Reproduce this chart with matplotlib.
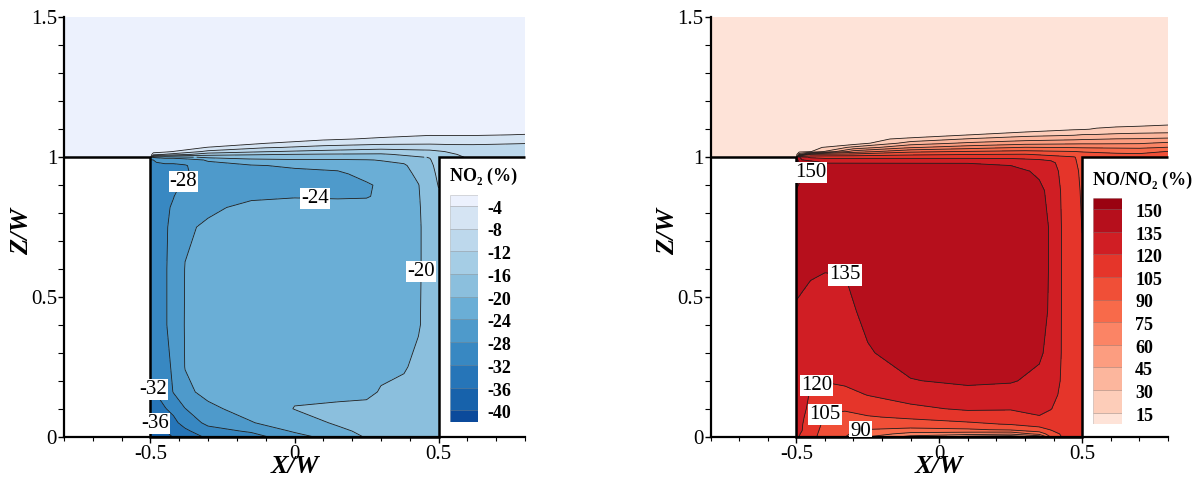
import numpy as np
import matplotlib
matplotlib.use("Agg")
import matplotlib.pyplot as plt
from matplotlib.patches import Rectangle
from matplotlib.ticker import MultipleLocator

plt.rcParams["font.family"] = ["Liberation Serif", "DejaVu Serif"]
plt.rcParams["axes.unicode_minus"] = False
plt.rcParams["contour.negative_linestyle"] = "solid"

# ------------------------------------------------------------------ geometry
wall_x = [-0.8, -0.5, -0.5, 0.5, 0.5, 0.8]      # building outline (X/W)
wall_z = [1.0, 1.0, 0.0, 0.0, 1.0, 1.0]         # building outline (Z/W)

# ------------------------------------------------------------------ NO2 panel
no2_levels = [-40, -36, -32, -28, -24, -20, -16, -12, -8, -4]
no2_colors = ["#0b4a9b", "#1762ab", "#2675b8", "#3888c2", "#4e9acb", "#6aaed6",
              "#8bbfdd", "#a5cde5", "#bdd8ec", "#d5e4f3", "#ecf1fd"]

no2_canyon_x = [-0.5, -0.48, -0.45, -0.42, -0.38, -0.3, -0.15, 0.0, 0.15, 0.25, 0.3, 0.38, 0.43, 0.47, 0.5]
no2_canyon_z = [0.0, 0.02, 0.05, 0.1, 0.16, 0.25, 0.4, 0.6, 0.75, 0.82, 0.86, 0.9, 0.94, 0.97, 0.99, 1.0]
# one list per x position, values going up in z
no2_canyon_cols = [
    [-39, -38, -36.8, -34.5, -32.5, -31, -30, -29.5, -29.5, -29.5, -29.5, -29.5, -29.5, -29, -28.5, -24],
    [-38, -37, -35.8, -33.5, -31.8, -30.5, -29.5, -29, -29, -29, -29, -29, -29, -28.7, -27.5, -23],
    [-37, -36.2, -34.5, -32.2, -30.5, -29, -28.3, -28.3, -28.4, -28.6, -28.8, -29, -28.9, -28.5, -27, -22],
    [-35.8, -34.8, -33, -31, -27.8, -27.5, -27, -27, -27.2, -27.6, -28.1, -28.6, -28.8, -28.5, -27, -22],
    [-33.5, -32.8, -30.5, -28.1, -24.8, -23.9, -23.8, -23.9, -24.5, -25.5, -26.5, -27.5, -28.5, -28.3, -26, -21],
    [-31.5, -29.5, -27, -24.8, -23, -22.5, -22.3, -22.5, -23.5, -24.6, -25.5, -26, -26, -25.5, -23.5, -19],
    [-29.5, -27.5, -24.2, -22.5, -21.5, -21.2, -21, -21.2, -22.2, -23.2, -24.5, -25.5, -25.5, -24.3, -21, -18],
    [-25.5, -23.5, -21.8, -19.9, -20.5, -20.8, -21, -21.2, -22, -22.8, -24.2, -25.2, -25, -23.5, -20.5, -17.5],
    [-22, -20.8, -19.5, -19.3, -21, -21, -21.2, -21.3, -22, -23, -24.3, -25, -24.6, -23, -20.5, -17.5],
    [-19.7, -19.2, -18.8, -19.3, -20.6, -21, -21.2, -21.3, -22, -23, -24.2, -24.4, -23, -21.8, -20.2, -17.5],
    [-19.3, -18.8, -18.5, -18.8, -19.8, -20.6, -21, -21.1, -21.7, -22.6, -23.5, -23.5, -22.5, -21.3, -19.8, -17.5],
    [-18.5, -18.2, -18, -18.2, -19.2, -20.3, -20.8, -21, -21, -21, -21, -21, -21, -20.5, -19, -17],
    [-18, -17.8, -17.8, -18, -18.5, -19.2, -20.3, -20.4, -20.4, -20.3, -20.2, -20.1, -19.3, -18.2, -17.5, -16.5],
    [-17.8, -17.7, -17.6, -17.7, -18, -18.3, -18.6, -18.7, -18.7, -18.6, -18.5, -18.2, -17.8, -17, -16.3, -15.8],
    [-17.5, -17.4, -17.3, -17.3, -17.4, -17.5, -17.6, -17.6, -17.5, -17.2, -16.6, -15.8, -15, -14.5, -14, -13.8],
]
no2_roof_x = [-0.8, -0.5, -0.49, -0.45, -0.3, -0.1, 0.1, 0.3, 0.47, 0.5, 0.55, 0.62, 0.7, 0.8]
no2_roof_z = [1.0, 1.01, 1.02, 1.035, 1.05, 1.065, 1.08, 1.1, 1.13, 1.5]
no2_roof_cols = [
    [-2, -2, -2, -2, -2, -2, -2, -2, -2, -2],
    [-2, -2, -2, -2, -2, -2, -2, -2, -2, -2],
    [-20, -6, -2.5, -2, -2, -2, -2, -2, -2, -2],
    [-22, -8.2, -3, -2, -2, -2, -2, -2, -2, -2],
    [-19, -14.5, -9, -4.1, -2, -2, -2, -2, -2, -2],
    [-17.7, -15.8, -11.8, -7.6, -3.9, -2.3, -2, -2, -2, -2],
    [-17.5, -16.3, -13.2, -9, -6.5, -3.2, -2.2, -2, -2, -2],
    [-17.5, -16.5, -14, -10.5, -7, -4.7, -2.7, -2.1, -2, -2],
    [-15.8, -14.3, -12.8, -10.5, -7.3, -5.2, -3.8, -2.5, -2, -2],
    [-13.8, -13.2, -12.3, -10.3, -7.2, -5.1, -3.8, -2.5, -2, -2],
    [-12.6, -12.2, -11.6, -10, -7, -5, -3.8, -2.6, -2, -2],
    [-11.5, -11.2, -10.8, -9.5, -7.2, -5, -3.8, -2.8, -2, -2],
    [-11, -10.8, -10.3, -9.2, -7.6, -5.3, -3.9, -2.9, -2, -2],
    [-10.5, -10.3, -10, -9, -7.9, -5.6, -4.1, -2.9, -2, -2],
]
no2_label_levels = [-28, -24, -20, -32, -36]
no2_label_pos = [(-0.36, 0.889), (0.071, 0.841), (0.444, 0.59), (-0.466, 0.179), (-0.475, 0.054)]

# ------------------------------------------------------------------ NO/NO2 panel
rat_levels = [15, 30, 45, 60, 75, 90, 105, 120, 135, 150]
rat_colors = ["#fee3d8", "#fdcdb9", "#fcb69d", "#fc9d80", "#fb8465", "#f86a4a",
              "#f04f37", "#e5352a", "#d01e24", "#b60f1c", "#9a0211"]

rat_canyon_x = [-0.5, -0.48, -0.45, -0.4, -0.33, -0.25, -0.1, 0.1, 0.25, 0.35, 0.39, 0.43, 0.47, 0.5]
rat_canyon_z = [0.0, 0.01, 0.025, 0.045, 0.07, 0.1, 0.15, 0.2, 0.3, 0.45, 0.6, 0.75, 0.88, 0.95, 0.98, 1.0]
rat_canyon_cols = [
    [121, 121, 121.5, 122, 122.5, 123, 124, 125, 127, 134, 138, 143, 149.8, 153, 155, 150],
    [119, 119.5, 120.2, 120.5, 121, 121.5, 122, 122.5, 125, 133, 137.5, 142, 148, 151, 146, 125],
    [112, 113, 114, 115, 117, 118.5, 119.5, 120.5, 124, 131, 136.5, 141, 147, 150.3, 144, 117],
    [96, 97, 99, 101.5, 104, 107, 116, 120.5, 125, 130, 135.5, 140, 144, 146, 134.5, 116],
    [90.5, 92, 95, 99, 102.5, 106, 115, 123, 127, 132, 135.5, 140, 144, 145, 134.5, 116],
    [75.5, 82, 89.5, 98, 104, 110, 120.5, 126, 134, 138, 140, 142, 145, 144, 134.5, 116],
    [55, 70, 86, 99, 107, 117, 126, 134.5, 140, 143, 145, 146, 146, 143, 134.5, 116],
    [40, 66, 88, 102, 112, 122, 131, 137, 142, 145, 146, 146, 145, 142, 134.5, 116],
    [35, 62, 92, 106, 114, 121, 130, 136, 140, 143, 144, 144, 143, 139, 133, 116],
    [50, 80, 100, 110, 119, 124, 128, 132, 137, 139, 139, 139, 137.5, 133, 128, 114],
    [92, 98, 105.5, 111, 116, 120.5, 124, 127, 131, 133.5, 134, 134, 132, 128, 124, 113],
    [106, 107, 109, 111, 113, 115, 117.5, 118.5, 119, 119, 119, 119, 118, 116, 114, 110],
    [108, 109, 110, 111, 112, 113, 114, 114.5, 115, 115, 114.5, 113, 111, 109, 107, 106],
    [108, 108, 109, 110, 110.5, 111, 111.5, 112, 112, 110, 108, 104.5, 103, 102, 101.5, 101],
]
rat_roof_x = [-0.8, -0.5, -0.49, -0.45, -0.3, -0.1, 0.1, 0.3, 0.47, 0.5, 0.55, 0.62, 0.7, 0.8]
rat_roof_z = [1.0, 1.01, 1.02, 1.035, 1.05, 1.065, 1.08, 1.1, 1.13, 1.5]
rat_roof_cols = [
    [8, 8, 8, 8, 8, 8, 8, 8, 8, 8],
    [8, 8, 8, 8, 8, 8, 8, 8, 8, 8],
    [130, 40, 10, 8, 8, 8, 8, 8, 8, 8],
    [116, 90, 14, 8, 8, 8, 8, 8, 8, 8],
    [116, 94, 67, 34, 6, 8, 8, 8, 8, 8],
    [115, 102, 87, 58, 37, 19, 5, 8, 8, 8],
    [114, 104.5, 91, 68, 47.5, 31, 14.5, 7, 8, 8],
    [113, 105.7, 93.7, 75.5, 54.4, 38.7, 24.4, 5.6, 8, 8],
    [106, 98, 90.5, 74, 57, 42, 28.5, 13.5, 8, 8],
    [101, 96, 89, 73.5, 57.5, 43, 30.5, 14, 8, 8],
    [98, 94, 88, 73, 57.5, 44, 31, 16, 8, 8],
    [96, 92, 87, 72.5, 58, 45.5, 33, 18, 7, 8],
    [95, 91.5, 86, 72, 58.5, 46, 34, 20, 6, 8],
    [95, 92.5, 90.5, 75.5, 63, 48, 34.5, 22, 8, 8],
]
rat_label_levels = [150, 135, 120, 105, 90]
rat_label_pos = [(-0.442, 0.932), (-0.32, 0.586), (-0.436, 0.205), (-0.41, 0.084), (-0.28, 0.036)]

W_PX, H_PX = 1203, 478


def draw_panel(ax, cx, cz, ccols, rx, rz, rcols, levels, colors, lab_levels, lab_pos, ylab_x):
    fill_levels = [-1e4] + levels + [1e4]
    vc = np.array(ccols, dtype=float).T
    vr = np.array(rcols, dtype=float).T
    ax.contourf(rx, rz, vr, levels=fill_levels, colors=colors, zorder=1)
    ax.contour(rx, rz, vr, levels=levels, colors="#1e1e1e", linewidths=0.6,
               linestyles="solid", zorder=2)
    ax.contourf(cx, cz, vc, levels=fill_levels, colors=colors, zorder=1)
    ax.contour(cx, cz, vc, levels=levels, colors="#1e1e1e", linewidths=0.6,
               linestyles="solid", zorder=2)
    # labels: one (invisible) single-level contour set per label, labelled near the given point
    for lev, pos in zip(lab_levels, lab_pos):
        cs1 = ax.contour(cx, cz, vc, levels=[lev], colors="none", linewidths=0)
        ax.clabel(cs1, manual=[pos], inline=False, fontsize=15, fmt="%d", colors="k")
        for t in cs1.labelTexts:
            t.set_rotation(0)
            t.set_zorder(7)
            t.set_bbox(dict(boxstyle="square,pad=0.05", fc="white", ec="none"))

    ax.plot(wall_x, wall_z, color="k", lw=1.8, zorder=6, clip_on=False,
            solid_joinstyle="miter", solid_capstyle="butt")

    ax.set_xlim(-0.8, 0.8)
    ax.set_ylim(0, 1.5)
    ax.set_xticks([-0.5, 0, 0.5], labels=["-0.5", "0", "0.5"])
    ax.set_yticks([0, 0.5, 1, 1.5], labels=["0", "0.5", "1", "1.5"])
    ax.xaxis.set_minor_locator(MultipleLocator(0.1))
    ax.yaxis.set_minor_locator(MultipleLocator(0.1))
    ax.tick_params(axis="x", which="major", direction="out", length=4.5, width=1.0, pad=1.5, labelsize=15)
    ax.tick_params(axis="x", which="minor", direction="out", length=3.0, width=0.8)
    ax.tick_params(axis="y", which="major", direction="out", length=4.5, width=1.0, pad=0.5, labelsize=15)
    ax.tick_params(axis="y", which="minor", direction="out", length=4.0, width=0.8)
    for s in ("top", "right"):
        ax.spines[s].set_visible(False)
    for s in ("left", "bottom"):
        ax.spines[s].set_linewidth(1.6)
        ax.spines[s].set_zorder(6)

    ax.set_xlabel("X/W", fontsize=19, fontweight="bold", fontstyle="italic")
    ax.xaxis.set_label_coords(0.5, -0.072)
    ax.xaxis.label.set_va("center")
    ax.set_ylabel("Z/W", fontsize=19, fontweight="bold", fontstyle="italic")
    ax.yaxis.set_label_coords(ylab_x, 0.49)
    ax.yaxis.label.set_va("center")


def draw_legend(fig, box_px, levels, colors, title, title_px, label_dx):
    x0, y0, x1, y1 = box_px
    lax = fig.add_axes([x0 / W_PX, (H_PX - y1) / H_PX, (x1 - x0) / W_PX, (y1 - y0) / H_PX])
    n = len(levels)
    lax.set_xlim(0, 1)
    lax.set_ylim(0, n)
    lax.axis("off")
    edges = [0] + [i + 0.5 for i in range(n)] + [n]
    for k, c in enumerate(colors):
        lax.add_patch(Rectangle((0, edges[k]), 1, edges[k + 1] - edges[k],
                                fc=c, ec=(0.1, 0.1, 0.1, 0.18), lw=0.6))
    for i, lev in enumerate(levels):
        lax.text(label_dx, i + 0.5 - 0.15, f"{lev:g}", ha="left", va="center",
                 fontsize=13, fontweight="bold", clip_on=False)
    fig.text(title_px[0] / W_PX, 1 - title_px[1] / H_PX, title, ha="left", va="center",
             fontsize=13, fontweight="bold")


fig = plt.figure(figsize=(12.03, 4.78), dpi=100)
ax1 = fig.add_axes([64 / W_PX, 41.3 / H_PX, 461 / W_PX, 419.3 / H_PX])
ax2 = fig.add_axes([710.5 / W_PX, 41.3 / H_PX, 457.5 / W_PX, 419.3 / H_PX])

draw_panel(ax1, no2_canyon_x, no2_canyon_z, no2_canyon_cols, no2_roof_x, no2_roof_z, no2_roof_cols,
           no2_levels, no2_colors, no2_label_levels, no2_label_pos, -0.091)
draw_panel(ax2, rat_canyon_x, rat_canyon_z, rat_canyon_cols, rat_roof_x, rat_roof_z, rat_roof_cols,
           rat_levels, rat_colors, rat_label_levels, rat_label_pos, -0.093)

draw_legend(fig, (450, 194.5, 478.3, 421.7), no2_levels, no2_colors, "NO\u2082 (%)", (450, 176), 1.31)
draw_legend(fig, (1093.3, 197.7, 1121.7, 424), rat_levels, rat_colors, "NO/NO\u2082 (%)", (1093, 180.5), 1.47)

fig.savefig("out.png", dpi=100)
